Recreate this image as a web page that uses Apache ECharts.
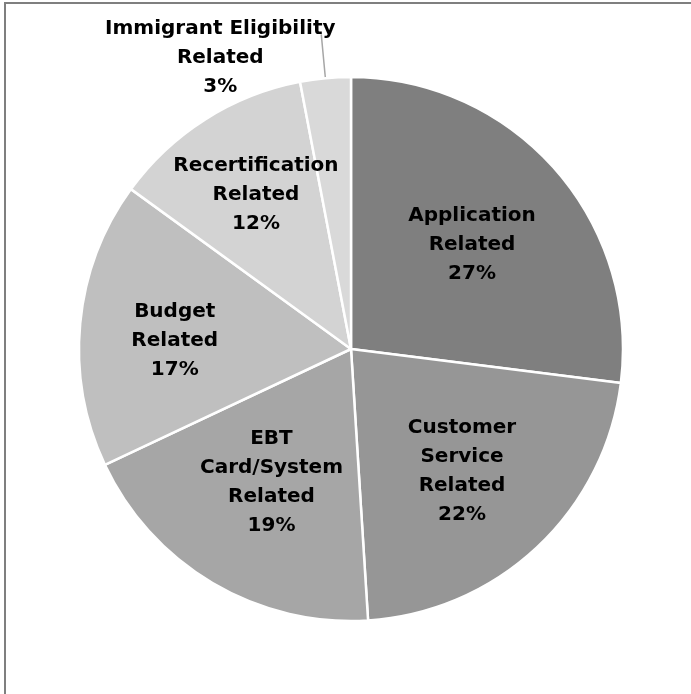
<!DOCTYPE html>
<html>
<head>
<meta charset="utf-8">
<script src="https://cdn.jsdelivr.net/npm/echarts@6/dist/echarts.min.js"></script>
<style>
  html, body { margin: 0; padding: 0; background: #ffffff; }
  #frame { position: absolute; left: 4px; top: 2px; width: 687px; height: 692px;
           border-left: 2px solid #7f7f7f; border-top: 2px solid #7f7f7f; box-sizing: border-box; }
  #chart { position: absolute; left: 0; top: 0; width: 691px; height: 694px; }
</style>
</head>
<body>
<div id="frame"></div>
<div id="chart"></div>
<script>
// Complaint categories, clockwise from 12 o'clock
const categories = [
  'Application\nRelated',
  'Customer\nService\nRelated',
  'EBT\nCard/System\nRelated',
  'Budget\nRelated',
  'Recertification\nRelated',
  'Immigrant Eligibility\nRelated'
];
const shares = [27, 22, 19, 17, 12, 3];
const sliceColors = ['#7f7f7f', '#969696', '#a6a6a6', '#bfbfbf', '#d3d3d3', '#d9d9d9'];

// Small per-label nudges [dx, dy] for the in-slice labels
const labelNudge = {
  0: [-5, 7],
  1: [-4, 0],
  2: [6, -11],
  3: [-9, 8],
  4: [-5, -12]
};
const outsideIndex = 5;

const font = { fontFamily: 'DejaVu Sans', fontWeight: 'bold', fontSize: 20, lineHeight: 29, color: '#000000' };
const center = [351, 349];
const R = 272;

const pieData = categories.map((name, i) => ({
  name: name,
  value: shares[i],
  itemStyle: { color: sliceColors[i] },
  label: { show: i === outsideIndex },
  labelLine: { show: i === outsideIndex }
}));

const labelData = categories.map((name, i) => ({
  name: name,
  value: shares[i],
  label: { show: i !== outsideIndex }
}));

const chart = echarts.init(document.getElementById('chart'), null, { renderer: 'canvas' });
chart.setOption({
  animation: false,
  series: [
    {
      type: 'pie',
      center: center,
      radius: [0, R],
      startAngle: 90,
      clockwise: true,
      silent: true,
      data: pieData,
      itemStyle: { borderColor: '#ffffff', borderWidth: 2.5 },
      label: Object.assign({ position: 'outside', formatter: '{b}\n{d}%', distanceToLabelLine: 5 }, font),
      labelLine: { length: 44, length2: 0, lineStyle: { color: '#a6a6a6', width: 1.5 } },
      labelLayout: function () {
        return { align: 'center', verticalAlign: 'top', dx: -96, dy: -20 };
      }
    },
    {
      // transparent twin carrying the in-slice labels
      type: 'pie',
      center: center,
      radius: [0, 330],
      startAngle: 90,
      clockwise: true,
      silent: true,
      z: 5,
      data: labelData,
      itemStyle: { color: 'rgba(0,0,0,0)', borderWidth: 0 },
      label: Object.assign({ position: 'inside', formatter: '{b}\n{d}%', align: 'center' }, font),
      labelLine: { show: false },
      labelLayout: function (p) {
        const n = labelNudge[p.dataIndex] || [0, 0];
        return { dx: n[0], dy: n[1] };
      }
    }
  ]
});
</script>
</body>
</html>
